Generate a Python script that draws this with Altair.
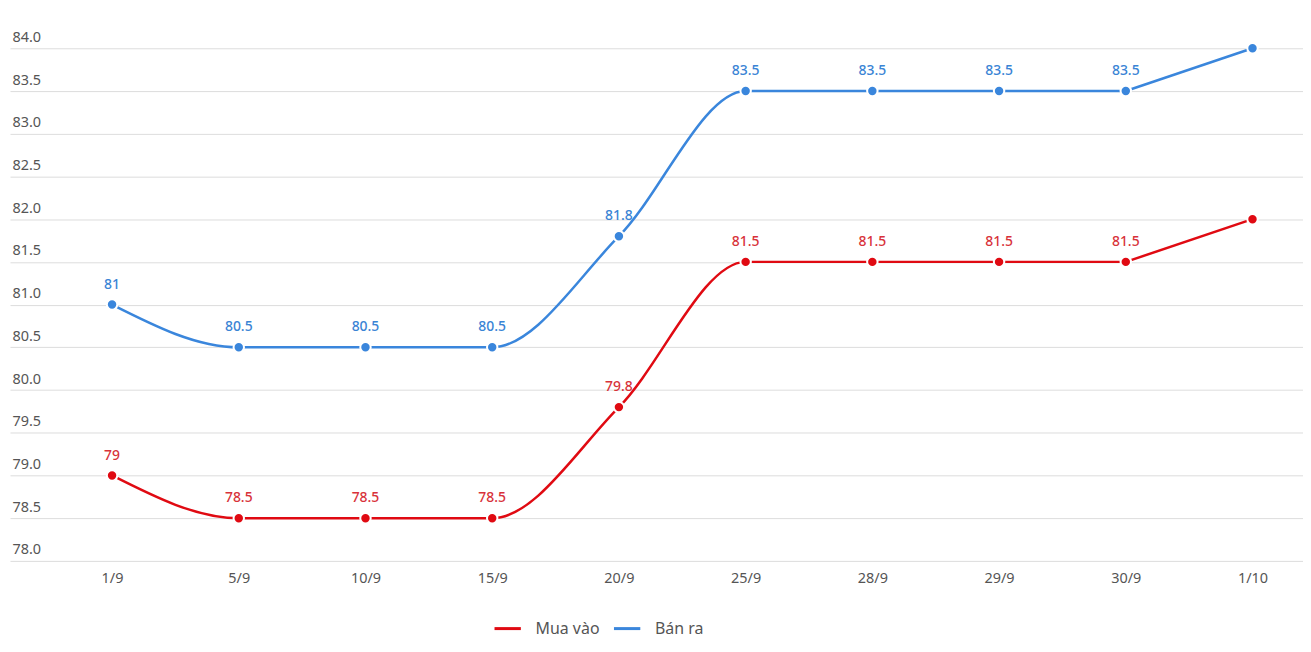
import altair as alt
import pandas as pd

dates = ["1/9", "5/9", "10/9", "15/9", "20/9", "25/9", "28/9", "29/9", "30/9", "1/10"]
mua_vao = [79, 78.5, 78.5, 78.5, 79.8, 81.5, 81.5, 81.5, 81.5, 82]
ban_ra = [81, 80.5, 80.5, 80.5, 81.8, 83.5, 83.5, 83.5, 83.5, 84]
series_names = ["Mua vào", "Bán ra"]
colors = ["#E00A12", "#3A86DC"]
label_colors = ["#D8323A", "#3A84D5"]

rows = []
n = len(dates)
for i, d in enumerate(dates):
    for s, vals in zip(series_names, [mua_vao, ban_ra]):
        rows.append({"date": d, "series": s, "value": vals[i],
                     "idx": i, "last": i == n - 1})
df = pd.DataFrame(rows)

W = 1299
x = alt.X("date:N", sort=dates,
          scale=alt.Scale(type="point", range=[0, W], padding=0.602, align=0.669),
          axis=alt.Axis(title=None, labelAngle=0, domain=False, ticks=False,
                        labelPadding=11, labelFontSize=14.5, labelColor="#555555",
                        labelFont="Noto Sans", grid=False))
y = alt.Y("value:Q",
          scale=alt.Scale(domain=[78, 84], nice=False, zero=False),
          axis=alt.Axis(title=None, values=[78 + 0.5 * k for k in range(13)], format=".1f",
                        domain=False, ticks=False, grid=True, gridColor="#dddddd",
                        labelAlign="left", labelBaseline="bottom", labelPadding=-2,
                        labelOffset=-4, labelFontSize=14.5, labelColor="#555555",
                        labelFont="Noto Sans"))
color = alt.Color("series:N", sort=series_names,
                  scale=alt.Scale(domain=series_names, range=colors),
                  legend=alt.Legend(title=None, orient="none", direction="horizontal",
                                    legendX=485, legendY=568, symbolType="stroke",
                                    symbolStrokeWidth=3, symbolSize=700, padding=0,
                                    labelFontSize=16, labelColor="#555555",
                                    labelFont="Noto Sans", columnPadding=7,
                                    labelOffset=13))

base = alt.Chart(df)
lines = base.transform_filter("!datum.last").mark_line(
    interpolate="monotone", strokeWidth=2.5).encode(x=x, y=y, color=color)
tail = base.transform_filter(f"datum.idx >= {n - 2}").mark_line(
    strokeWidth=2.5).encode(x=x, y=y, color=alt.Color("series:N", scale=alt.Scale(domain=series_names, range=colors), legend=None))
points = base.mark_point(filled=True, size=110, opacity=1, stroke="white", strokeWidth=2).encode(
    x=x, y=y, fill=alt.Fill("series:N", scale=alt.Scale(domain=series_names, range=colors), legend=None),
    color=alt.value("white"))
labels = base.transform_filter("!datum.last").mark_text(dy=-20, fontSize=14, font="Noto Sans", fontWeight=500).encode(
    x=x, y=y, text=alt.Text("value:Q", format="~g"),
    color=alt.Color("series:N", scale=alt.Scale(domain=series_names, range=label_colors), legend=None))

chart = alt.layer(lines, tail, points, labels).resolve_scale(color="independent").properties(
    width=W, height=515,
    padding={"left": 2, "top": 39, "right": 0, "bottom": 80},
    autosize=alt.AutoSizeParams(type="none"),
).configure_view(stroke=None)

chart.save("out.html", embed_options={"renderer": "svg", "actions": False})
